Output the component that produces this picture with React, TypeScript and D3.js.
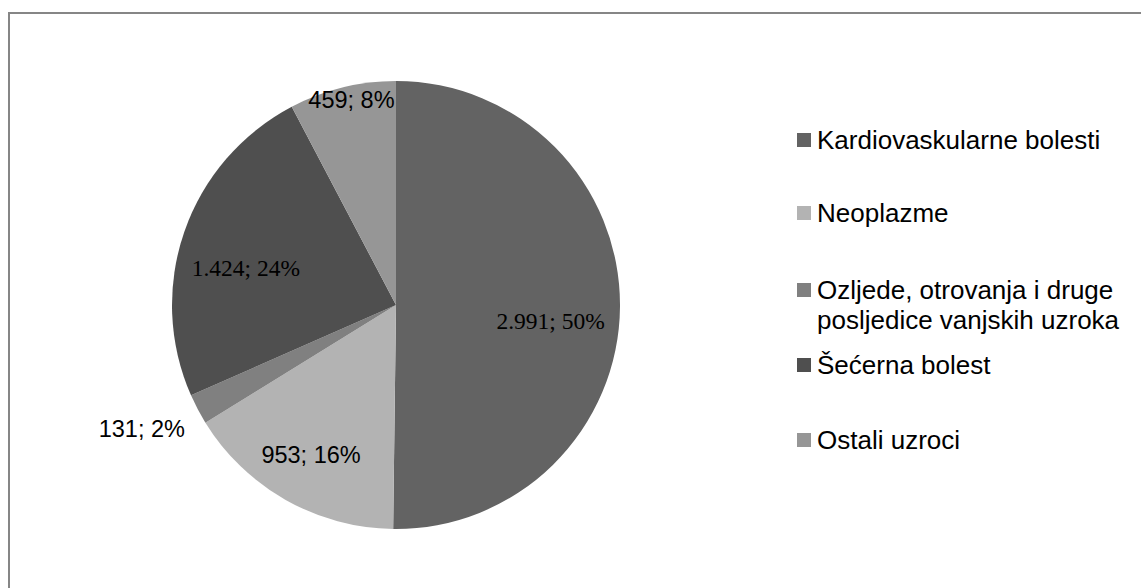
import { useEffect, useRef } from "react";
import * as d3 from "d3";

const categories = [
  "Kardiovaskularne bolesti",
  "Neoplazme",
  "Ozljede, otrovanja i druge posljedice vanjskih uzroka",
  "Šećerna bolest",
  "Ostali uzroci",
];
const values = [2991, 953, 131, 1424, 459];
const valueLabels = ["2.991", "953", "131", "1.424", "459"];
const percentLabels = ["50%", "16%", "2%", "24%", "8%"];
const legendLines = [
  ["Kardiovaskularne bolesti"],
  ["Neoplazme"],
  ["Ozljede, otrovanja i druge", "posljedice vanjskih uzroka"],
  ["Šećerna bolest"],
  ["Ostali uzroci"],
];

const colors = ["#636363", "#b3b3b3", "#808080", "#4f4f4f", "#969696"];
// label placement: radius factor along the slice mid-angle and a vertical nudge
const labelRadius = [0.69, 0.77, 1.1, 0.71, 0.83];
const labelNudge = [15, 0, 7, 15, -25];
const labelSerif = [true, false, false, true, false];

const PieChart = () => {
  const ref = useRef<HTMLDivElement | null>(null);

  function chartRender(svg: any) {
    const width = 1141;
    const height = 588;
    const cx = 396;
    const cy = 305;
    const r = 224;

    svg.attr("width", width).attr("height", height)
      .style("position", "absolute").style("left", 0).style("top", 0);

    svg.append("rect").attr("width", width).attr("height", height).attr("fill", "#fff");
    svg.append("rect")
      .attr("x", 9).attr("y", 13).attr("width", 1140).attr("height", 590)
      .attr("fill", "none").attr("stroke", "#868686").attr("stroke-width", 2);

    const pie = d3.pie<number>().sort(null).value((d) => d);
    const arcs = pie(values);
    const arc = d3.arc<d3.PieArcDatum<number>>().innerRadius(0).outerRadius(r);

    const g = svg.append("g").attr("transform", `translate(${cx},${cy})`);
    g.selectAll("path")
      .data(arcs)
      .enter()
      .append("path")
      .attr("d", arc)
      .attr("fill", (_: any, i: number) => colors[i]);

    arcs.forEach((a, i) => {
      const mid = (a.startAngle + a.endAngle) / 2;
      const rr = r * labelRadius[i];
      const x = Math.sin(mid) * rr;
      const y = -Math.cos(mid) * rr;
      const outside = labelRadius[i] > 1;
      g.append("text")
        .attr("x", outside ? x + 7 : x)
        .attr("y", y + (outside ? 10 : 8) + labelNudge[i])
        .attr("text-anchor", outside ? "end" : "middle")
        .attr("font-family", labelSerif[i] ? "'Liberation Serif', 'Times New Roman', serif" : "'Liberation Sans', Arial, sans-serif")
        .attr("font-size", 23.5)
        .attr("fill", "#000")
        .text(`${valueLabels[i]}; ${percentLabels[i]}`);
    });

    const legendY = d3.scalePoint<string>().domain(categories).range([140, 440]);
    const lg = svg.append("g");
    categories.forEach((c, i) => {
      const yc = legendY(c)! + (i === 1 ? -2 : 0);
      lg.append("rect")
        .attr("x", 797).attr("y", yc - 7).attr("width", 14).attr("height", 14)
        .attr("fill", colors[i]);
      legendLines[i].forEach((line, j) => {
        lg.append("text")
          .attr("x", 817).attr("y", yc + 9 + j * 30)
          .attr("font-family", "'Liberation Sans', Arial, sans-serif")
          .attr("font-size", 26)
          .attr("fill", "#000")
          .text(line);
      });
    });
  }

  useEffect(() => {
    if (ref.current) {
      const svg = d3.select(ref.current).append("svg");
      chartRender(svg);
      return () => {
        svg.remove();
      };
    }
  }, []);

  return <div ref={ref}></div>;
};

export default function App() {
  return <PieChart />;
}
